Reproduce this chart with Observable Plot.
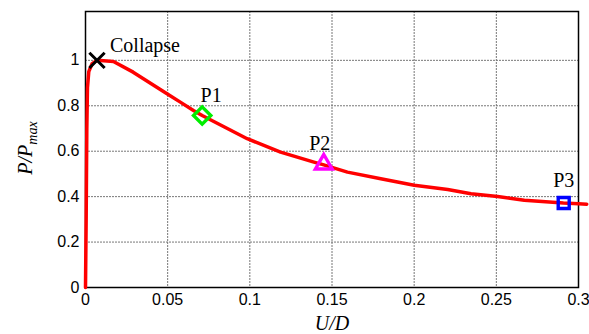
<!DOCTYPE html>
<html>
<head>
<meta charset="utf-8">
<script src="https://cdn.jsdelivr.net/npm/d3@7"></script>
<script src="https://cdn.jsdelivr.net/npm/@observablehq/plot@0.6"></script>
<style>
  html, body { margin: 0; padding: 0; background: #fff; }
  #chart { width: 589px; height: 334px; overflow: hidden; }
</style>
</head>
<body>
<div id="chart"></div>
<script>
// Curve: normalized load vs normalized displacement
const curveX = [0, 0.0004, 0.0008, 0.0012, 0.002, 0.004, 0.007, 0.017, 0.029, 0.0496, 0.0577, 0.0657, 0.071, 0.0984, 0.1187, 0.139, 0.145, 0.1594, 0.1797, 0.2, 0.2204, 0.2346, 0.2508, 0.267, 0.2908, 0.3, 0.305];
const curveY = [0, 0.3, 0.7, 0.88, 0.95, 0.985, 1.0, 0.995, 0.948, 0.853, 0.816, 0.779, 0.757, 0.655, 0.596, 0.552, 0.54, 0.508, 0.479, 0.45, 0.431, 0.413, 0.401, 0.384, 0.372, 0.369, 0.367];

// Marked points
const pointNames = ["Collapse", "P1", "P2", "P3"];
const pointX = [0.007, 0.071, 0.145, 0.291];
const pointY = [1.0, 0.757, 0.543, 0.372];
const pointSymbols = ["times", "diamond2", "triangle2", "square2"];
const pointColors = ["#000000", "#00ee00", "#ff00ff", "#0000ff"];

// Ticks
const xTicks = [0, 0.05, 0.1, 0.15, 0.2, 0.25, 0.3];
const xTickLabels = ["0", "0.05", "0.1", "0.15", "0.2", "0.25", "0.3"];
const yTicks = [0, 0.2, 0.4, 0.6, 0.8, 1.0];
const yTickLabels = ["0", "0.2", "0.4", "0.6", "0.8", "1"];

const curve = curveX.map((x, i) => ({x, y: curveY[i]}));
const points = pointNames.map((name, i) => ({name, x: pointX[i], y: pointY[i], symbol: pointSymbols[i], color: pointColors[i]}));

const labelOffsets = {
  "Collapse": {dx: 13, dy: -15, anchor: "start"},
  "P1": {dx: 9, dy: -20, anchor: "middle"},
  "P2": {dx: -4, dy: -21, anchor: "middle"},
  "P3": {dx: 0, dy: -22, anchor: "middle"}
};
const markerSize = {times: 7, diamond2: 7.8, triangle2: 8, square2: 7};

const serif = "'Liberation Serif', 'Times New Roman', serif";

const chart = Plot.plot({
  width: 589,
  height: 334,
  marginLeft: 85,
  marginRight: 11,
  marginTop: 11,
  marginBottom: 47,
  x: {domain: [0, 0.3]},
  y: {domain: [0, 1.215]},
  style: {fontFamily: "'Liberation Sans', Arial, sans-serif", fontSize: "16px", color: "#000", background: "#fff"},
  marks: [
    Plot.gridX(xTicks.slice(1, -1), {stroke: "#777", strokeOpacity: 1, strokeDasharray: "2,1"}),
    Plot.gridY(yTicks.slice(1), {stroke: "#777", strokeOpacity: 1, strokeDasharray: "2,1"}),
    Plot.frame({stroke: "#000", strokeWidth: 1.5}),
    Plot.axisX(xTicks, {tickSize: 0, tickPadding: 6, tickFormat: (d, i) => xTickLabels[i], label: null}),
    Plot.axisY(yTicks, {tickSize: 0, tickPadding: 6, tickFormat: (d, i) => yTickLabels[i], label: null}),
    Plot.line(curve, {x: "x", y: "y", stroke: "#ff0000", strokeWidth: 3.5, clip: false}),
    ...points.map(p => Plot.dot([p], {
      x: "x", y: "y", symbol: () => p.symbol, stroke: p.color, fill: "none",
      r: markerSize[p.symbol],
      strokeWidth: p.symbol === "times" ? 3 : 3.4
    })),
    ...points.map(p => Plot.text([p], {
      x: "x", y: "y", text: "name",
      dx: labelOffsets[p.name].dx, dy: labelOffsets[p.name].dy,
      textAnchor: labelOffsets[p.name].anchor,
      fontFamily: serif, fontSize: 20, fill: "#000"
    })),
    Plot.text(["U/D"], {frameAnchor: "bottom", lineAnchor: "middle", dy: 36, text: d => d, fontFamily: serif, fontStyle: "italic", fontSize: 20, fill: "#000"})
  ]
});

document.getElementById("chart").appendChild(chart);

// Y axis label with subscript
const svg = d3.select(chart);
const yl = svg.append("text")
  .attr("transform", "translate(32,148) rotate(-90)")
  .attr("text-anchor", "middle")
  .attr("font-family", serif)
  .attr("font-style", "italic")
  .attr("font-size", 20)
  .attr("fill", "#000");
yl.append("tspan").text("P/P");
yl.append("tspan").attr("font-size", 14).attr("dy", 5).text("max");
</script>
</body>
</html>
